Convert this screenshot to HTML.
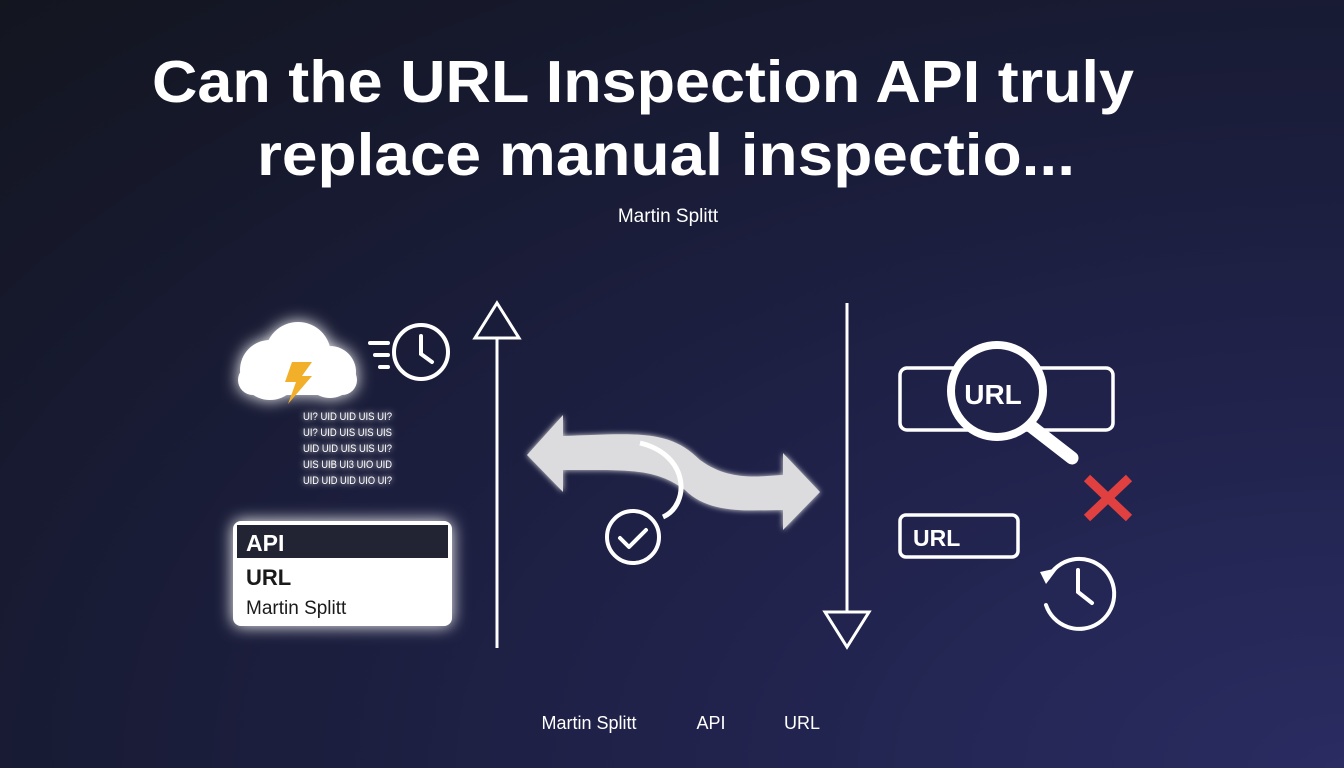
<!DOCTYPE html>
<html><head><meta charset="utf-8"><style>
html,body{margin:0;padding:0;width:1344px;height:768px;overflow:hidden;}
body{background:radial-gradient(ellipse at 100% 100%,#2a2c62 0%,#1f2148 40%,#171a30 75%,#13151f 100%);}
svg{display:block;font-family:"Liberation Sans",sans-serif;}
</style></head><body>
<svg width="1344" height="768" viewBox="0 0 1344 768">
<defs>
<filter id="glow" x="-30%" y="-30%" width="160%" height="160%"><feGaussianBlur stdDeviation="8" result="b"/><feMerge><feMergeNode in="b"/><feMergeNode in="SourceGraphic"/></feMerge></filter>
<filter id="glow2" x="-30%" y="-30%" width="160%" height="160%"><feGaussianBlur stdDeviation="3" result="b"/><feMerge><feMergeNode in="b"/><feMergeNode in="SourceGraphic"/></feMerge></filter>
</defs>
<g fill="#fff" font-weight="bold" font-size="59" text-anchor="middle">
<text x="643" y="102" textLength="982" lengthAdjust="spacingAndGlyphs">Can the URL Inspection API truly</text>
<text x="666" y="175" textLength="818" lengthAdjust="spacingAndGlyphs">replace manual inspectio...</text>
</g>
<text x="668" y="222" fill="#fff" font-size="19" text-anchor="middle">Martin Splitt</text>

<!-- cloud -->
<g filter="url(#glow)" fill="#fff">
<circle cx="270" cy="370" r="30"/><circle cx="298" cy="355" r="33"/><circle cx="330" cy="372" r="26"/>
<rect x="238" y="365" width="119" height="30" rx="15"/>
</g>
<path d="M292 362 L312 362 L302 376 L312 376 L288 404 L296 382 L285 382 Z" fill="#f2b02a"/>
<g stroke="#fff" stroke-width="4" fill="none" stroke-linecap="round">
<circle cx="421" cy="352" r="27"/><path d="M421 336 V354 L432 362"/>
<path d="M370 343 H388 M375 355 H388 M380 367 H388"/>
</g>
<g fill="#fff" font-size="11" filter="url(#glow2)" font-family="Liberation Sans,sans-serif">
<text x="303" y="420" textLength="89" lengthAdjust="spacingAndGlyphs">UI? UID UID UIS UI?</text>
<text x="303" y="436" textLength="89" lengthAdjust="spacingAndGlyphs">UI? UID UIS UIS UIS</text>
<text x="303" y="452" textLength="89" lengthAdjust="spacingAndGlyphs">UID UID UIS UIS UI?</text>
<text x="303" y="468" textLength="89" lengthAdjust="spacingAndGlyphs">UIS UIB UI3 UIO UID</text>
<text x="303" y="484" textLength="89" lengthAdjust="spacingAndGlyphs">UID UID UID UIO UI?</text>
</g>
<g filter="url(#glow)">
<rect x="233" y="521" width="219" height="105" rx="8" fill="#fff"/>
</g>
<rect x="237" y="525" width="211" height="33" fill="#222433"/>
<text x="246" y="551" fill="#fff" font-weight="bold" font-size="23">API</text>
<text x="246" y="585" fill="#1a1a1a" font-weight="bold" font-size="22">URL</text>
<text x="246" y="614" fill="#1a1a1a" font-size="19">Martin Splitt</text>

<g stroke="#fff" stroke-width="3" fill="none">
<path d="M497 648 V338"/><path d="M497 303 L519 338 L475 338 Z"/>
<path d="M847 303 V612"/><path d="M825 612 L869 612 L847 647 Z"/>
</g>

<g filter="url(#glow2)">
<path d="M527 455 L563 415 L563 436 C640 433 670 430 700 460 C730 482 760 476 783 475 L783 453 L820 492 L783 530 L783 510 C750 510 710 515 685 490 C655 468 630 470 563 470 L563 492 Z" fill="#dcdcde"/>
</g>
<path d="M640 443 C690 455 690 505 663 517" stroke="#fff" stroke-width="5" fill="none"/>
<g stroke="#fff" stroke-width="4" fill="none" stroke-linecap="round" stroke-linejoin="round">
<circle cx="633" cy="537" r="26"/><path d="M620 538 L629 547 L646 530"/>
</g>

<g stroke="#fff" stroke-width="3.5" fill="none">
<rect x="900" y="368" width="213" height="62" rx="7"/>
<rect x="900" y="515" width="118" height="42" rx="6"/>
</g>
<circle cx="997" cy="391" r="46" fill="#20224a" stroke="#fff" stroke-width="8"/>
<path d="M1032 427 L1072 458" stroke="#fff" stroke-width="13" stroke-linecap="round"/>
<text x="993" y="404" fill="#fff" font-weight="bold" font-size="28" text-anchor="middle">URL</text>
<text x="913" y="546" fill="#fff" font-weight="bold" font-size="23">URL</text>
<path d="M1087 478 L1129 518 M1129 478 L1087 518" stroke="#e04040" stroke-width="9"/>
<g stroke="#fff" stroke-width="4" fill="none" stroke-linecap="round">
<path d="M1048 578 A35 35 0 1 1 1046 605"/><path d="M1078 570 V592 L1092 603"/>
</g>
<path d="M1040 572 L1058 568 L1046 584 Z" fill="#fff"/>

<g fill="#fff" font-size="18" text-anchor="middle">
<text x="589" y="729">Martin Splitt</text><text x="711" y="729">API</text><text x="802" y="729">URL</text>
</g>
</svg>
</body></html>
